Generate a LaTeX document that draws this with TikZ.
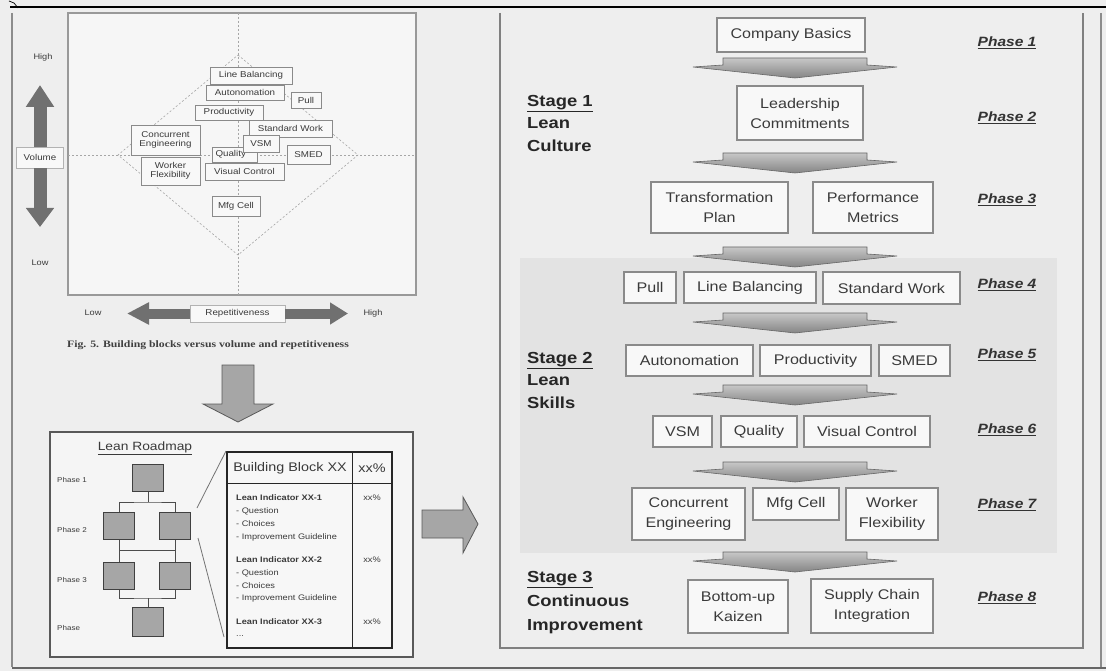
\documentclass[tikz,border=0pt]{standalone}
\usepackage{fontspec}
\setmainfont[FakeStretch=1.15]{Liberation Sans}
\newfontfamily\capfont[FakeStretch=1.2]{Liberation Serif}
\usetikzlibrary{arrows.meta,calc}

\definecolor{bg}{HTML}{EEEEEE}
\definecolor{plot}{HTML}{F6F6F6}
\definecolor{shadetwo}{HTML}{E3E3E3}
\definecolor{frame}{HTML}{8A8A8A}
\definecolor{ink}{HTML}{3A3A3A}
\definecolor{arrowgrey}{HTML}{707070}
\definecolor{blockgrey}{HTML}{A6A6A6}
\definecolor{boxfill}{HTML}{F8F8F8}

\tikzset{
  rbox/.style={draw=frame, line width=1.1pt, fill=boxfill, text=ink,
    font=\fontsize{14}{20}\selectfont, align=center, inner sep=0pt},
  cbox/.style={draw=frame, line width=0.8pt, fill=boxfill, text=ink,
    font=\fontsize{8.5}{9.5}\selectfont, align=center, inner sep=0pt},
  sq/.style={draw=black!75, line width=1pt, fill=blockgrey,
    minimum width=31pt, minimum height=27pt, inner sep=0pt},
  phaselbl/.style={font=\fontsize{13.5}{16}\selectfont\bfseries\itshape, text=black!80},
  stagelbl/.style={font=\fontsize{16}{22.5}\selectfont\bfseries, text=black!85,
    align=left, anchor=north west, inner sep=0pt},
  axislbl/.style={font=\fontsize{8}{9}\selectfont, text=ink},
  tinylbl/.style={font=\fontsize{8}{9}\selectfont, text=ink, anchor=west, inner sep=0pt},
  guide/.style={black!35, line width=0.6pt, dash pattern=on 2pt off 2pt},
  bigarrow/.style={fill=blockgrey, draw=black!65, line width=0.8pt},
  pics/chevron/.style={code={
    \path[draw=black!60, line width=0.6pt, top color=black!22, bottom color=black!48]
      (-72,0) -- (72,0) -- (72,7) -- (102,9) -- (0,20) -- (-102,9) -- (-72,7) -- cycle;
  }},
}

\begin{document}
\begin{tikzpicture}[x=1pt,y=-1pt]
\useasboundingbox (0,0) rectangle (1106,671);
\fill[bg] (0,0) rectangle (1106,671);

% outer frame lines
\draw[black, line width=1.2pt] (10,7) -- (1106,7);
\draw[black, line width=0.7pt] (9,1) -- (14,3) -- (18,8);
\draw[black!45, line width=1.5pt] (12,13) -- (12,667);
\draw[black!60, line width=2pt] (12,668) -- (1106,668);
\draw[black!45, line width=1.5pt] (1101,13) -- (1101,667);

% ---------- building blocks chart ----------
\draw[black!40, line width=1.5pt, fill=plot] (68,13) rectangle (416,295);
\draw[guide] (238,13) -- (238,295);
\draw[guide] (68,155) -- (416,155);
\draw[guide] (238,55) -- (358,155) -- (238,255) -- (118,155) -- cycle;

\node[cbox, minimum width=82pt, minimum height=17pt] (clb) at (251,75.5) {Line Balancing};
\node[cbox, minimum width=78pt, minimum height=15pt] (cau) at (245,92.5) {Autonomation};
\node[cbox, minimum width=30pt, minimum height=16pt] (cpu) at (306,100) {Pull};
\node[cbox, minimum width=68pt, minimum height=15pt] (cpr) at (229,112.5) {Productivity};
\node[cbox, minimum width=83pt, minimum height=17pt] (csw) at (290.5,128.5) {Standard Work};
\node[cbox, minimum width=69pt, minimum height=30pt] (cce) at (165.5,140) {Concurrent\\Engineering};
\node[cbox, minimum width=45pt, minimum height=15pt, text width=38pt, align=left] (cqu) at (234.5,154.5) {Quality};
\node[cbox, minimum width=36pt, minimum height=17pt] (cvs) at (261,143.5) {VSM};
\node[cbox, minimum width=43pt, minimum height=19pt] (csm) at (308.5,154.5) {SMED};
\node[cbox, minimum width=59pt, minimum height=28pt] (cwf) at (170.5,171) {Worker\\Flexibility};
\node[cbox, minimum width=79pt, minimum height=17pt] (cvc) at (244.5,171.5) {Visual Control};
\node[cbox, minimum width=48pt, minimum height=20pt] (cmf) at (236,206) {Mfg Cell};

% volume axis
\node[axislbl] (vhigh) at (43,57) {High};
\node[axislbl] (vlow) at (40,263) {Low};
\node[draw=black!30, fill=boxfill, line width=0.6pt, font=\fontsize{8.5}{10}\selectfont, text=ink,
  minimum width=47pt, minimum height=21pt, inner sep=0pt] (vol) at (40,157.5) {Volume};
\coordinate (vtop) at (40,85);
\coordinate (vbot) at (40,227);
\draw[arrowgrey, line width=13pt, -{Triangle[length=22pt,width=27pt]}] (vol.north) -- (vtop);
\draw[arrowgrey, line width=13pt, -{Triangle[length=19pt,width=27pt]}] (vol.south) -- (vbot);

% repetitiveness axis
\node[axislbl] (hlow) at (93,313) {Low};
\node[axislbl] (hhigh) at (373,313) {High};
\node[draw=black!30, fill=boxfill, line width=0.6pt, font=\fontsize{8.5}{10}\selectfont, text=ink,
  minimum width=95pt, minimum height=17pt, inner sep=0pt] (rep) at (237.5,313.5) {Repetitiveness};
\coordinate (hleft) at (127,313.5);
\coordinate (hright) at (348,313.5);
\draw[arrowgrey, line width=10pt, -{Triangle[length=22pt,width=21pt]}] (rep.west) -- (hleft);
\draw[arrowgrey, line width=10pt, -{Triangle[length=18pt,width=21pt]}] (rep.east) -- (hright);

\node[font=\capfont\bfseries\fontsize{9.8}{11}\selectfont, text=black!75] (cap) at (208,345)
  {Fig. 5. Building blocks versus volume and repetitiveness};

% arrow down to the roadmap
\path[bigarrow] (222,365) -- (254,365) -- (254,404) -- (273,404) -- (238,422)
  -- (203,404) -- (222,404) -- cycle;

% ---------- lean roadmap ----------
\draw[black!65, line width=1.6pt, fill=black!4] (50,432) rectangle (413,657);
\node[font=\fontsize{12}{14}\selectfont, text=ink] (lrtitle) at (145,448) {\underline{Lean Roadmap}};

\node[tinylbl, font=\fontsize{7}{8}\selectfont] (lp1) at (57,480) {Phase 1};
\node[tinylbl, font=\fontsize{7}{8}\selectfont] (lp2) at (57,530) {Phase 2};
\node[tinylbl, font=\fontsize{7}{8}\selectfont] (lp3) at (57,580) {Phase 3};
\node[tinylbl, font=\fontsize{7}{8}\selectfont] (lp4) at (57,628) {Phase};

\node[sq] (r1) at (148,478) {};
\node[sq] (r2a) at (119,526) {};
\node[sq] (r2b) at (175,526) {};
\node[sq] (r3a) at (119,576) {};
\node[sq] (r3b) at (175,576) {};
\node[sq, minimum height=29pt] (r4) at (148,622) {};

\coordinate (j1) at (148,502);
\coordinate (j2a) at (119,550);
\coordinate (j2b) at (175,550);
\coordinate (j3) at (148,598);
\draw[black!70, line width=1pt] (r1.south) -- (j1);
\draw[black!70, line width=1pt] (r2a.north) |- (j1) -| (r2b.north);
\draw[black!70, line width=1pt] (r2a.south) -- (r3a.north);
\draw[black!70, line width=1pt] (r2b.south) -- (r3b.north);
\draw[black!70, line width=1pt] (j2a) -- (j2b);
\draw[black!70, line width=1pt] (r3a.south) |- (j3) -| (r3b.south);
\draw[black!70, line width=1pt] (j3) -- (r4.north);

% building block detail table
\node[draw=black!85, line width=2pt, fill=black!3, minimum width=165pt, minimum height=196pt,
  inner sep=0pt] (bb) at (309.5,550) {};
\coordinate (z1) at (197,508);
\coordinate (z2) at (198,538);
\coordinate (z3) at (224,637);
\draw[black!55, line width=0.8pt] (z1) -- (bb.north west);
\draw[black!55, line width=0.8pt] (z2) -- (z3);
\draw[black!85, line width=1pt] (bb.west |- 0,483) -- (bb.east |- 0,483);
\draw[black!85, line width=1pt] (352,452) -- (352,648);
\node[font=\fontsize{12.5}{14}\selectfont, text=ink] (bbh) at (290,468) {Building Block XX};
\node[font=\fontsize{12.5}{14}\selectfont, text=ink] (bbp) at (372,468) {xx\%};

\node[tinylbl, font=\fontsize{8}{9}\selectfont\bfseries] (li1) at (236,498) {Lean Indicator XX-1};
\node[tinylbl] (li1a) at (236,511) {- Question};
\node[tinylbl] (li1b) at (236,524) {- Choices};
\node[tinylbl] (li1c) at (236,537) {- Improvement Guideline};
\node[tinylbl, font=\fontsize{8}{9}\selectfont\bfseries] (li2) at (236,560) {Lean Indicator XX-2};
\node[tinylbl] (li2a) at (236,573) {- Question};
\node[tinylbl] (li2b) at (236,586) {- Choices};
\node[tinylbl] (li2c) at (236,598) {- Improvement Guideline};
\node[tinylbl, font=\fontsize{8}{9}\selectfont\bfseries] (li3) at (236,622) {Lean Indicator XX-3};
\node[tinylbl] (li3a) at (236,636) {...};
\node[axislbl] (p1) at (372,498) {xx\%};
\node[axislbl] (p2) at (372,560) {xx\%};
\node[axislbl] (p3) at (372,622) {xx\%};

% arrow across to the stages
\path[bigarrow] (422,510) -- (463,510) -- (463,497) -- (478,524) -- (463,553)
  -- (463,538) -- (422,538) -- cycle;

% ---------- stages and phases ----------
\draw[black!50, line width=1.5pt] (500,13) -- (500,648) -- (1083,648) -- (1083,13);
\fill[shadetwo] (520,258) rectangle (1057,553);

\node[stagelbl] (s1) at (527,95) {\underline{Stage 1}\\Lean\\Culture};
\node[stagelbl] (s2) at (527,352) {\underline{Stage 2}\\Lean\\Skills};
\node[stagelbl, font=\fontsize{16}{24}\selectfont\bfseries] (s3) at (527,571) {\underline{Stage 3}\\Continuous\\Improvement};

\node[rbox, minimum width=148pt, minimum height=34pt] (cb) at (791,35) {Company Basics};
\node[rbox, minimum width=126pt, minimum height=54pt] (lc) at (800,113) {Leadership\\Commitments};
\node[rbox, minimum width=137pt, minimum height=51pt] (tp) at (719.5,207.5) {Transformation\\Plan};
\node[rbox, minimum width=120pt, minimum height=51pt] (pm) at (873,207.5) {Performance\\Metrics};
\node[rbox, minimum width=52pt, minimum height=31pt] (pu) at (650,287.5) {Pull};
\node[rbox, minimum width=132pt, minimum height=31pt] (lb) at (750,287.5) {Line Balancing};
\node[rbox, minimum width=137pt, minimum height=32pt] (sw) at (891.5,288) {Standard Work};
\node[rbox, minimum width=127pt, minimum height=31pt] (au) at (689.5,360.5) {Autonomation};
\node[rbox, minimum width=111pt, minimum height=31pt] (pr) at (815.5,360.5) {Productivity};
\node[rbox, minimum width=71pt, minimum height=31pt] (sm) at (914.5,360.5) {SMED};
\node[rbox, minimum width=59pt, minimum height=31pt] (vs) at (682.5,431.5) {VSM};
\node[rbox, minimum width=76pt, minimum height=31pt] (qu) at (759,431.5) {Quality};
\node[rbox, minimum width=126pt, minimum height=31pt] (vc) at (867,431.5) {Visual Control};
\node[rbox, minimum width=113pt, minimum height=52pt] (ce) at (688.5,514) {Concurrent\\Engineering};
\node[rbox, minimum width=86pt, minimum height=32pt] (mf) at (796,504) {Mfg Cell};
\node[rbox, minimum width=92pt, minimum height=52pt] (wf) at (892,514) {Worker\\Flexibility};
\node[rbox, minimum width=100pt, minimum height=53pt] (bk) at (738,606.5) {Bottom-up\\Kaizen};
\node[rbox, minimum width=122pt, minimum height=54pt] (sc) at (872,606) {Supply Chain\\Integration};

\pic at (795,58) {chevron};
\pic at (795,153) {chevron};
\pic at (795,247) {chevron};
\pic at (795,313) {chevron};
\pic at (795,385) {chevron};
\pic at (795,462) {chevron};
\pic at (795,552) {chevron};

\node[phaselbl] (ph1) at (1007,43) {\underline{Phase 1}};
\node[phaselbl] (ph2) at (1007,118) {\underline{Phase 2}};
\node[phaselbl] (ph3) at (1007,200) {\underline{Phase 3}};
\node[phaselbl] (ph4) at (1007,285) {\underline{Phase 4}};
\node[phaselbl] (ph5) at (1007,355) {\underline{Phase 5}};
\node[phaselbl] (ph6) at (1007,430) {\underline{Phase 6}};
\node[phaselbl] (ph7) at (1007,505) {\underline{Phase 7}};
\node[phaselbl] (ph8) at (1007,598) {\underline{Phase 8}};
\end{tikzpicture}
\end{document}
